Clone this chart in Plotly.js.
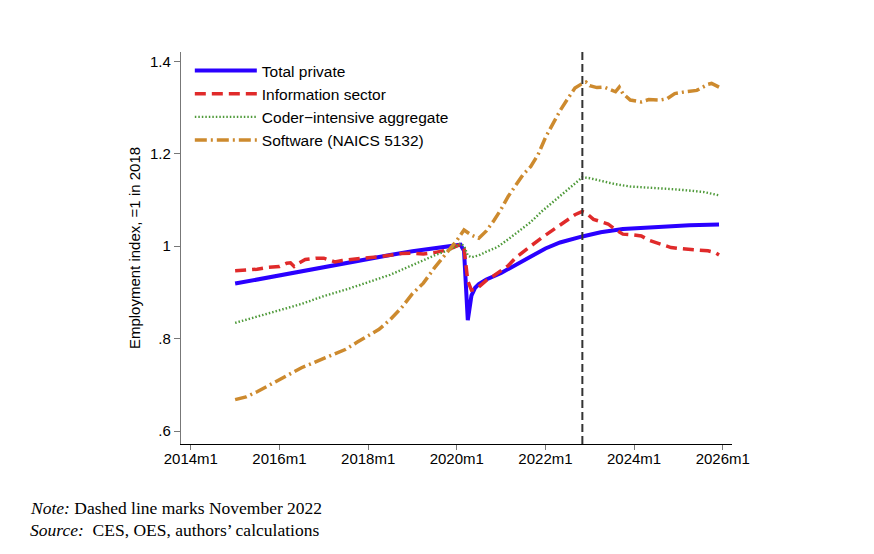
<!DOCTYPE html>
<html>
<head>
<meta charset="utf-8">
<script src="https://cdn.plot.ly/plotly-3.0.1.min.js"></script>
<style>
  html, body { margin: 0; padding: 0; background: #fff; }
  #chart { width: 874px; height: 554px; }
</style>
</head>
<body>
<div id="chart"></div>
<script>
// ---- Data ----
const totalMonths = ["2015-01","2015-07","2016-01","2016-07","2017-01","2017-07","2018-01","2018-07","2019-01","2019-07","2020-01","2020-02","2020-03","2020-04","2020-05","2020-06","2020-07","2020-09","2021-01","2021-04","2021-07","2021-10","2022-01","2022-05","2022-08","2022-11","2023-04","2023-10","2024-04","2024-10","2025-04","2025-12"];
const totalVals   = [0.919,0.928,0.937,0.946,0.955,0.964,0.972,0.981,0.989,0.996,1.001,1.003,0.990,0.840,0.893,0.910,0.918,0.928,0.942,0.955,0.969,0.983,0.995,1.008,1.015,1.021,1.030,1.037,1.040,1.043,1.045,1.047];

const infoMonths = ["2015-01","2015-04","2015-07","2015-10","2016-01","2016-03","2016-04","2016-05","2016-06","2016-08","2016-11","2017-01","2017-03","2017-04","2017-06","2017-09","2018-01","2018-04","2018-07","2018-10","2019-01","2019-04","2019-07","2019-10","2019-12","2020-02","2020-03","2020-04","2020-05","2020-06","2020-07","2020-09","2020-11","2021-01","2021-03","2021-05","2021-07","2021-09","2021-12","2022-03","2022-06","2022-09","2022-11","2022-12","2023-02","2023-04","2023-06","2023-08","2023-10","2024-01","2024-03","2024-05","2024-07","2024-09","2024-11","2025-01","2025-04","2025-07","2025-09","2025-11","2025-12"];
const infoVals   = [0.947,0.948,0.950,0.954,0.956,0.963,0.964,0.956,0.962,0.971,0.974,0.974,0.970,0.966,0.969,0.972,0.975,0.977,0.981,0.984,0.985,0.983,0.986,0.991,0.997,1.004,0.995,0.925,0.905,0.906,0.912,0.926,0.936,0.947,0.958,0.975,0.988,1.000,1.018,1.034,1.050,1.068,1.075,1.072,1.058,1.054,1.048,1.036,1.026,1.024,1.022,1.013,1.008,1.002,0.997,0.995,0.993,0.991,0.990,0.986,0.981];

const coderMonths = ["2015-01","2015-07","2016-01","2016-07","2017-01","2017-07","2018-01","2018-07","2019-01","2019-07","2019-12","2020-02","2020-03","2020-04","2020-05","2020-07","2020-09","2020-12","2021-03","2021-06","2021-09","2021-12","2022-03","2022-06","2022-09","2022-11","2023-01","2023-04","2023-08","2023-12","2024-05","2024-10","2025-03","2025-08","2025-12"];
const coderVals   = [0.834,0.848,0.861,0.875,0.892,0.906,0.922,0.938,0.959,0.980,0.995,1.006,1.000,0.980,0.976,0.980,0.988,0.998,1.015,1.033,1.052,1.075,1.095,1.115,1.137,1.149,1.147,1.141,1.134,1.129,1.127,1.124,1.121,1.117,1.110];

const softMonths = ["2015-01","2015-04","2015-07","2015-10","2016-01","2016-04","2016-07","2016-10","2017-01","2017-04","2017-07","2017-10","2018-01","2018-04","2018-07","2018-10","2019-01","2019-04","2019-07","2019-10","2020-01","2020-03","2020-05","2020-07","2020-09","2020-11","2021-01","2021-03","2021-05","2021-07","2021-09","2021-11","2022-01","2022-03","2022-05","2022-07","2022-09","2022-11","2022-12","2023-01","2023-03","2023-05","2023-06","2023-08","2023-09","2023-10","2023-12","2024-03","2024-05","2024-08","2024-10","2024-12","2025-03","2025-06","2025-09","2025-10","2025-12"];
const softVals   = [0.668,0.674,0.685,0.698,0.712,0.725,0.737,0.747,0.757,0.767,0.777,0.792,0.806,0.820,0.841,0.866,0.897,0.920,0.953,0.983,1.012,1.035,1.024,1.017,1.033,1.055,1.080,1.108,1.132,1.155,1.172,1.198,1.235,1.265,1.293,1.318,1.342,1.352,1.355,1.347,1.343,1.344,1.340,1.334,1.344,1.330,1.316,1.312,1.317,1.316,1.319,1.330,1.334,1.337,1.350,1.352,1.344];

const seriesNames = ["Total private","Information sector","Coder\u2212intensive aggregate","Software (NAICS 5132)"];
const markerMonth = "2022-11-01";   // November 2022

const xTickVals  = ["2014-01-01","2016-01-01","2018-01-01","2020-01-01","2022-01-01","2024-01-01","2026-01-01"];
const xTickText  = ["2014m1","2016m1","2018m1","2020m1","2022m1","2024m1","2026m1"];
const yTickVals  = [0.6,0.8,1.0,1.2,1.4];
const yTickText  = [".6",".8","1","1.2","1.4"];

// ---- Traces ----
const traces = [
  {x: totalMonths, y: totalVals, name: seriesNames[0], type: "scatter", mode: "lines",
   line: {color: "#2a00ff", width: 4}},
  {x: infoMonths, y: infoVals, name: seriesNames[1], type: "scatter", mode: "lines",
   line: {color: "#e02a2a", width: 3.5, dash: "11px,6px"}},
  {x: coderMonths, y: coderVals, name: seriesNames[2], type: "scatter", mode: "lines",
   line: {color: "#4f9a3a", width: 2.4, dash: "1.5px,2px"}},
  {x: softMonths, y: softVals, name: seriesNames[3], type: "scatter", mode: "lines",
   line: {color: "#cd8a2e", width: 3.5, dash: "12px,4px,2px,4px"}}
];

const layout = {
  width: 874, height: 554,
  margin: {l: 181, r: 142, t: 52, b: 110},
  paper_bgcolor: "#ffffff", plot_bgcolor: "#ffffff",
  font: {family: "Liberation Sans, Arial, sans-serif", size: 15, color: "#000"},
  showlegend: true,
  legend: {x: 0.016, y: 0.995, xanchor: "left", yanchor: "top",
           bgcolor: "rgba(0,0,0,0)", font: {size: 15.5}, itemwidth: 62,
           tracegroupgap: 0},
  xaxis: {
    type: "date",
    range: ["2013-10-12", "2026-03-18"],
    tickvals: xTickVals, ticktext: xTickText,
    showgrid: false, zeroline: false,
    showline: true, linecolor: "#000", linewidth: 1.2,
    ticks: "outside", ticklen: 5, tickcolor: "#777", tickwidth: 1,
    ticklabelstandoff: -4
  },
  yaxis: {
    range: [0.572, 1.42],
    tickvals: yTickVals, ticktext: yTickText,
    showgrid: false, zeroline: false,
    showline: true, linecolor: "#777", linewidth: 1.2,
    ticks: "outside", ticklen: 6, tickcolor: "#777", tickwidth: 1,
    title: {text: "Employment index, =1 in 2018", font: {size: 15}, standoff: 5}
  },
  shapes: [
    {type: "line", xref: "x", yref: "paper", x0: markerMonth, x1: markerMonth, y0: 0, y1: 1,
     line: {color: "#333", width: 2, dash: "8px,4px"}}
  ],
  annotations: [
    {xref: "paper", yref: "paper", x: -0.278, y: -0.163, xanchor: "left", yanchor: "middle",
     showarrow: false, align: "left",
     font: {family: "Liberation Serif, DejaVu Serif, serif", size: 17.5, color: "#000"},
     text: "<i>Note:</i> Dashed line marks November 2022"},
    {xref: "paper", yref: "paper", x: -0.278, y: -0.22, xanchor: "left", yanchor: "middle",
     showarrow: false, align: "left",
     font: {family: "Liberation Serif, DejaVu Serif, serif", size: 17.5, color: "#000"},
     text: "<i>Source:</i>&nbsp;&nbsp;CES, OES, authors\u2019 calculations"}
  ]
};

Plotly.newPlot("chart", traces, layout, {displayModeBar: false, staticPlot: true});
</script>
</body>
</html>
